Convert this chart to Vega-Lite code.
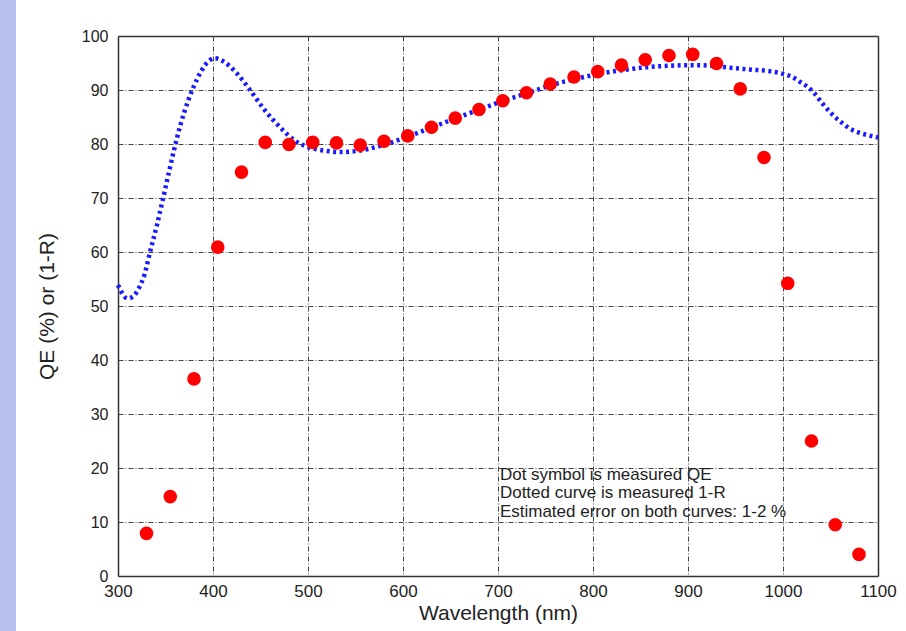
{
  "$schema": "https://vega.github.io/schema/vega-lite/v6.json",
  "width": 760,
  "height": 540,
  "autosize": {"type": "none"},
  "padding": {"left": 118, "top": 36, "right": 28, "bottom": 55},
  "background": "#b9c0ee",
  "config": {
    "view": {"fill": "white", "stroke": "white", "strokeWidth": 204},
    "font": "Liberation Sans",
    "axis": {"labelFont": "Liberation Sans", "titleFont": "Liberation Sans", "labelColor": "#222", "titleColor": "#222", "titleFontWeight": "normal", "labelFlush": false}
  },
  "datasets": {
    "qe": [
      {"wl": 330, "qe": 7.9}, {"wl": 355, "qe": 14.7}, {"wl": 380, "qe": 36.5}, {"wl": 405, "qe": 60.9},
      {"wl": 430, "qe": 74.8}, {"wl": 455, "qe": 80.3}, {"wl": 480, "qe": 79.9}, {"wl": 505, "qe": 80.3},
      {"wl": 530, "qe": 80.2}, {"wl": 555, "qe": 79.8}, {"wl": 580, "qe": 80.5}, {"wl": 605, "qe": 81.5},
      {"wl": 630, "qe": 83.1}, {"wl": 655, "qe": 84.8}, {"wl": 680, "qe": 86.4}, {"wl": 705, "qe": 88.0},
      {"wl": 730, "qe": 89.5}, {"wl": 755, "qe": 91.1}, {"wl": 780, "qe": 92.4}, {"wl": 805, "qe": 93.4},
      {"wl": 830, "qe": 94.6}, {"wl": 855, "qe": 95.6}, {"wl": 880, "qe": 96.4}, {"wl": 905, "qe": 96.6},
      {"wl": 930, "qe": 94.9}, {"wl": 955, "qe": 90.2}, {"wl": 980, "qe": 77.5}, {"wl": 1005, "qe": 54.2},
      {"wl": 1030, "qe": 25.0}, {"wl": 1055, "qe": 9.5}, {"wl": 1080, "qe": 4.0}
    ],
    "refl": [
      {"wl": 300, "r": 53.9}, {"wl": 305, "r": 52.2}, {"wl": 310, "r": 51.4}, {"wl": 316, "r": 51.8},
      {"wl": 322, "r": 53.3}, {"wl": 328, "r": 55.9}, {"wl": 334, "r": 60.2}, {"wl": 341, "r": 65.0},
      {"wl": 347, "r": 69.6}, {"wl": 353, "r": 74.3}, {"wl": 359, "r": 78.9}, {"wl": 366, "r": 83.7},
      {"wl": 374, "r": 88.1}, {"wl": 384, "r": 92.3}, {"wl": 393, "r": 94.9}, {"wl": 402, "r": 95.9},
      {"wl": 411, "r": 95.3}, {"wl": 425, "r": 93.1}, {"wl": 439, "r": 90.0}, {"wl": 453, "r": 86.6},
      {"wl": 470, "r": 83.2}, {"wl": 488, "r": 80.4}, {"wl": 505, "r": 79.2}, {"wl": 520, "r": 78.7},
      {"wl": 535, "r": 78.5}, {"wl": 555, "r": 78.8}, {"wl": 579, "r": 79.8}, {"wl": 604, "r": 81.3},
      {"wl": 628, "r": 82.9}, {"wl": 656, "r": 84.8}, {"wl": 684, "r": 86.6}, {"wl": 706, "r": 88.0},
      {"wl": 734, "r": 89.6}, {"wl": 758, "r": 91.0}, {"wl": 783, "r": 92.1}, {"wl": 807, "r": 93.0},
      {"wl": 832, "r": 93.7}, {"wl": 856, "r": 94.2}, {"wl": 881, "r": 94.5}, {"wl": 906, "r": 94.6},
      {"wl": 925, "r": 94.5}, {"wl": 945, "r": 94.1}, {"wl": 965, "r": 93.8}, {"wl": 985, "r": 93.5},
      {"wl": 1000, "r": 93.0}, {"wl": 1010, "r": 92.4}, {"wl": 1018, "r": 91.5}, {"wl": 1025, "r": 90.7},
      {"wl": 1032, "r": 89.6}, {"wl": 1042, "r": 87.4}, {"wl": 1050, "r": 85.8}, {"wl": 1056, "r": 84.8},
      {"wl": 1063, "r": 83.8}, {"wl": 1070, "r": 82.9}, {"wl": 1080, "r": 82.1}, {"wl": 1090, "r": 81.6},
      {"wl": 1100, "r": 81.2}
    ],
    "notes": [
      {"wl": 702, "v": 17.8, "label": "Dot symbol is measured QE"},
      {"wl": 702, "v": 14.4, "label": "Dotted curve is measured 1-R"},
      {"wl": 702, "v": 11.0, "label": "Estimated error on both curves: 1-2 %"}
    ]
  },
  "resolve": {"axis": {"x": "independent", "y": "independent"}},
  "layer": [
    {
      "data": {"name": "refl"},
      "mark": {"type": "line", "color": "#1a1aff", "strokeWidth": 4.5, "strokeDash": [3, 3.5], "interpolate": "monotone"},
      "encoding": {
        "x": {"field": "wl", "type": "quantitative", "scale": {"domain": [300, 1100], "nice": false},
          "axis": {"title": "Wavelength (nm)", "values": [300, 400, 500, 600, 700, 800, 900, 1000, 1100], "format": "d",
            "labelFontSize": 17, "titleFontSize": 21, "labelPadding": 7, "titlePadding": 3, "ticks": false,
            "domainColor": "#333", "domainWidth": 1.5, "grid": true, "gridColor": "#444", "gridDash": [5, 2, 1, 2], "gridWidth": 1}},
        "y": {"field": "r", "type": "quantitative", "scale": {"domain": [0, 100], "nice": false},
          "axis": {"title": "QE (%) or (1-R)", "values": [0, 10, 20, 30, 40, 50, 60, 70, 80, 90, 100],
            "labelFontSize": 16, "titleFontSize": 21, "labelPadding": 10, "titlePadding": 24, "ticks": false,
            "domainColor": "#333", "domainWidth": 1.5, "grid": true, "gridColor": "#444", "gridDash": [5, 2, 1, 2], "gridWidth": 1}}
      }
    },
    {
      "data": {"name": "qe"},
      "mark": {"type": "circle", "color": "#ff0000", "opacity": 1, "size": 185},
      "encoding": {
        "x": {"field": "wl", "type": "quantitative", "axis": null},
        "y": {"field": "qe", "type": "quantitative", "axis": null}
      }
    },
    {
      "data": {"name": "notes"},
      "mark": {"type": "text", "align": "left", "baseline": "alphabetic", "fontSize": 17, "color": "#222", "font": "Liberation Sans"},
      "encoding": {
        "x": {"field": "wl", "type": "quantitative",
          "axis": {"orient": "top", "title": null, "labels": false, "ticks": false, "grid": false, "domainColor": "#333", "domainWidth": 1.5}},
        "y": {"field": "v", "type": "quantitative",
          "axis": {"orient": "right", "title": null, "labels": false, "ticks": false, "grid": false, "domainColor": "#333", "domainWidth": 1.5}},
        "text": {"field": "label"}
      }
    }
  ]
}
